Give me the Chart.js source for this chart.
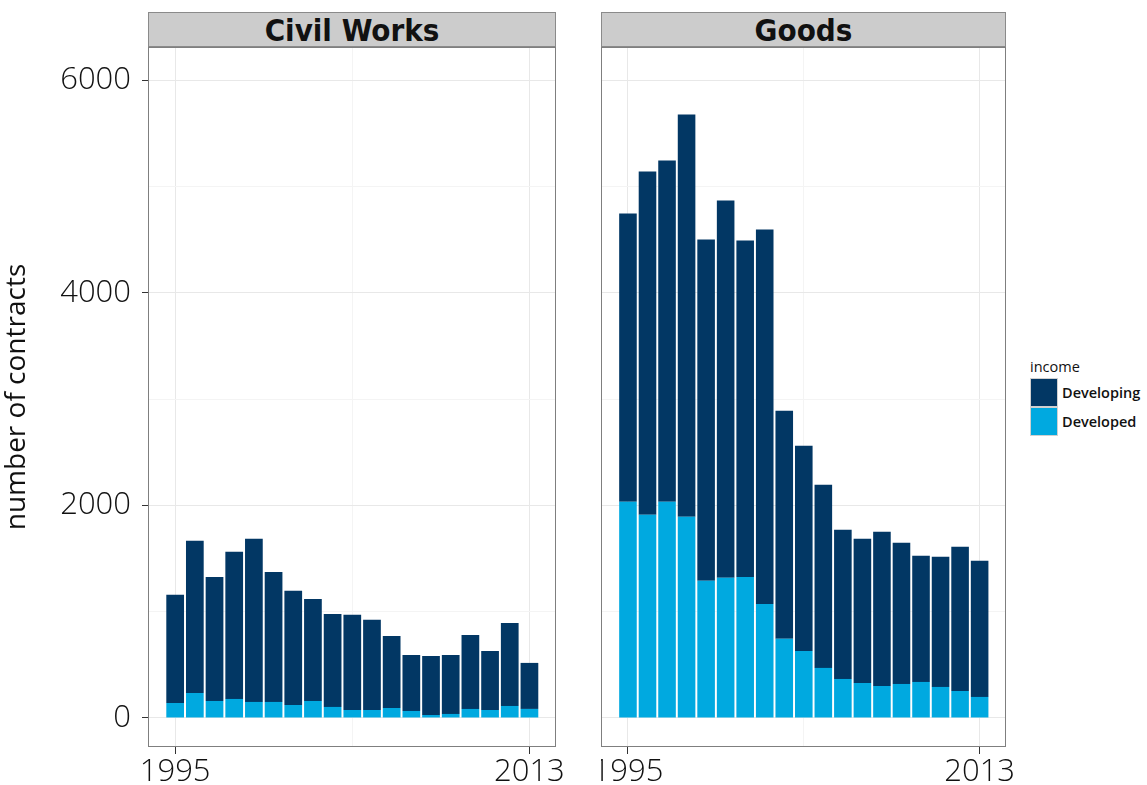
<!DOCTYPE html>
<html>
<head>
<meta charset="utf-8">
<script src="https://cdn.jsdelivr.net/npm/chart.js@4.4.1/dist/chart.umd.min.js"></script>
<style>
  body { margin: 0; width: 1147px; height: 785px; background: #fff; position: relative; overflow: hidden; font-family: "Open Sans", sans-serif; }
  .strip { position: absolute; top: 12px; height: 35px; box-sizing: border-box; background: #cccccc; border: 1px solid #8a8a8a;
           font-family: "DejaVu Sans Condensed", "Liberation Sans Narrow", sans-serif; font-weight: bold; font-size: 31px;
           line-height: 34px; text-align: center; color: #111; }
  .panel { position: absolute; top: 47px; height: 738px; }
  #legend { position: absolute; left: 1030px; top: 357px; font-size: 14.5px; color: #111; font-weight: 600; }
  #legend .title { height: 21px; line-height: 20px; font-weight: 500; }
  #legend .row { height: 29px; display: flex; align-items: center; }
  #legend .key { width: 28px; height: 29px; box-sizing: border-box; border: 1px solid #d0d0d0; margin-right: 4px; }
</style>
</head>
<body>
<div class="strip" style="left:148px;width:408px;">Civil Works</div>
<div class="strip" style="left:601px;width:405px;">Goods</div>
<div class="panel" style="left:0;width:576px;"><canvas id="civil"></canvas></div>
<div class="panel" style="left:601px;width:426px;"><canvas id="goods"></canvas></div>
<div id="legend">
  <div class="title">income</div>
  <div class="row"><div class="key" style="background:#023764"></div>Developing</div>
  <div class="row"><div class="key" style="background:#00a9e0"></div>Developed</div>
</div>
<script>
const years = [1995, 1996, 1997, 1998, 1999, 2000, 2001, 2002, 2003, 2004, 2005, 2006, 2007, 2008, 2009, 2010, 2011, 2012, 2013];

const civilDeveloped  = [141, 235, 160, 179, 151, 151, 122, 160, 104, 75, 75, 94, 66, 28, 38, 85, 75, 113, 85];
const civilDeveloping = [1017, 1431, 1167, 1384, 1534, 1223, 1074, 960, 875, 895, 848, 678, 527, 556, 555, 696, 556, 781, 433];

const goodsDeveloped  = [2033, 1911, 2033, 1892, 1290, 1318, 1327, 1073, 744, 631, 471, 367, 329, 301, 320, 339, 292, 254, 198];
const goodsDeveloping = [2712, 3229, 3211, 3785, 3210, 3549, 3163, 3521, 2146, 1930, 1722, 1403, 1356, 1450, 1327, 1186, 1224, 1356, 1280];

const yTicks = [0, 1000, 2000, 3000, 4000, 5000, 6000];
const xTicks = [1995, 2004, 2013];

const darkBlue = '#023764';
const lightBlue = '#00a9e0';
const tickFont = { family: '"Open Sans", sans-serif', size: 31, weight: 300 };

// grey frame round each facet
const panelFrame = {
  id: 'panelFrame',
  afterDraw(chart) {
    const { ctx, chartArea: a } = chart;
    ctx.save();
    ctx.strokeStyle = '#7f7f7f';
    ctx.lineWidth = 1;
    ctx.strokeRect(a.left + 0.5, a.top + 0.5, a.width - 1, a.height - 1);
    ctx.restore();
  }
};

function pts(vals) {
  return vals.map((v, i) => ({ x: years[i], y: v }));
}

function noPad(s) {
  s.paddingTop = 0; s.paddingBottom = 0; s.paddingLeft = 0; s.paddingRight = 0;
}

function makePanel(id, developed, developing, showY, rightPad) {
  new Chart(document.getElementById(id), {
    type: 'bar',
    data: {
      datasets: [
        { label: 'Developed', data: pts(developed), backgroundColor: lightBlue },
        { label: 'Developing', data: pts(developing), backgroundColor: darkBlue }
      ]
    },
    options: {
      responsive: true,
      maintainAspectRatio: false,
      animation: false,
      layout: { padding: { left: 0, top: 0, bottom: 0, right: rightPad } },
      categoryPercentage: 1,
      barPercentage: 0.9,
      plugins: { legend: { display: false }, tooltip: { enabled: false } },
      scales: {
        x: {
          type: 'linear',
          stacked: true,
          offset: false,
          min: 1993.62,
          max: 2014.35,
          afterBuildTicks: s => { s.ticks = xTicks.map(v => ({ value: v })); },
          afterFit: s => { s.height = 38; noPad(s); },
          border: { display: false },
          grid: {
            offset: false,
            color: c => c.tick && c.tick.value === 2004 ? '#f4f4f4' : '#e8e8e8',
            tickLength: 7,
            tickColor: c => c.tick && c.tick.value === 2004 ? 'rgba(0,0,0,0)' : '#333'
          },
          ticks: {
            font: tickFont,
            color: '#111',
            padding: 0,
            maxRotation: 0,
            callback: v => v === 2004 ? '' : String(v)
          }
        },
        y: {
          stacked: true,
          min: -273,
          max: 6311,
          afterBuildTicks: s => { s.ticks = yTicks.map(v => ({ value: v })); },
          afterFit: s => { s.width = showY ? 148 : 0; noPad(s); },
          border: { display: false },
          title: {
            display: showY,
            text: 'number of contracts',
            font: { family: '"Open Sans", sans-serif', size: 28, weight: 400 },
            color: '#111',
            padding: { top: 0, bottom: 0 }
          },
          grid: {
            color: c => c.tick && c.tick.value % 2000 === 0 ? '#e8e8e8' : '#f4f4f4',
            drawTicks: showY,
            tickLength: 6,
            tickColor: c => c.tick && c.tick.value % 2000 === 0 ? '#333' : 'rgba(0,0,0,0)'
          },
          ticks: {
            display: showY,
            font: tickFont,
            color: '#111',
            padding: 11,
            callback: v => v % 2000 === 0 ? String(v) : ''
          }
        }
      }
    },
    plugins: [panelFrame]
  });
}

makePanel('civil', civilDeveloped, civilDeveloping, true, 20);
makePanel('goods', goodsDeveloped, goodsDeveloping, false, 21);
</script>
</body>
</html>
